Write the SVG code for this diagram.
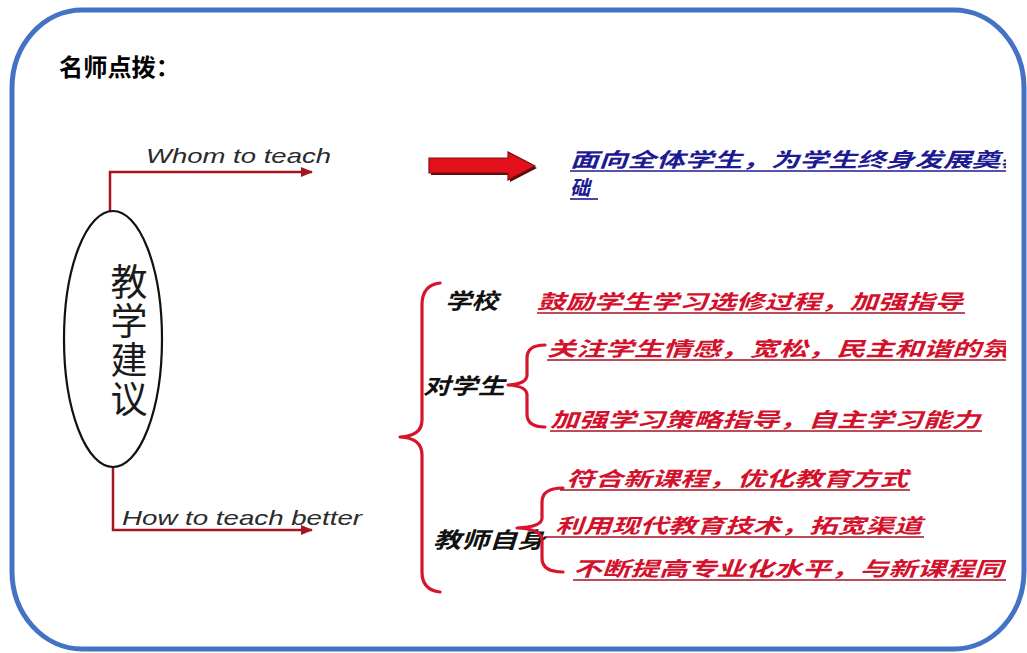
<svg xmlns="http://www.w3.org/2000/svg" width="1027" height="653" viewBox="0 0 1027 653">
<defs>
<style>
.title{font-family:"Noto Sans CJK SC","Noto Sans",sans-serif;font-size:24px;font-weight:bold;fill:#000}
.en{font-family:"Liberation Sans",Arial,sans-serif;font-style:italic;font-size:21px;fill:#2a2a2a}
.cjk{font-family:"Noto Sans CJK SC",sans-serif;font-style:italic;font-weight:bold;font-size:20px}
.red{fill:#d3112c}
.blue{fill:#1d1a93}
.blk{fill:#111;font-size:22px}
.ul{stroke:#a3121f;stroke-width:1.6}
.ulb{stroke:#1d1a93;stroke-width:1.6}
.conn{fill:none;stroke:#a3161f;stroke-width:2.5}
.brace{fill:none;stroke:#d6142c;stroke-width:3.2;stroke-linecap:round;stroke-linejoin:round}
.vert{font-family:"Noto Sans CJK SC",sans-serif;font-size:37px;fill:#1a1a1a;writing-mode:vertical-rl;letter-spacing:2px}
</style>
<marker id="ah" viewBox="0 0 10 10" refX="9" refY="5" markerWidth="5" markerHeight="5" orient="auto" markerUnits="strokeWidth">
<path d="M0,1 L10,5 L0,9 Z" fill="#a3161f"/>
</marker>
<clipPath id="clipR"><rect x="0" y="0" width="1006" height="653"/></clipPath>
</defs>
<rect x="0" y="0" width="1027" height="653" fill="#fff"/>
<rect id="border" x="12" y="10" width="1012" height="639" rx="70" ry="78" fill="#fff" stroke="#4472c4" stroke-width="5"/>
<text id="title" class="title" x="59" y="76" textLength="121" lengthAdjust="spacingAndGlyphs">名师点拨：</text>

<g id="connectors">
<path class="conn" d="M110,212 L110,172 L312,172" marker-end="url(#ah)"/>
<path class="conn" d="M113,466 L113,530 L312,530" marker-end="url(#ah)"/>
</g>

<g id="center">
<ellipse cx="113" cy="339" rx="49" ry="128" fill="#fff" stroke="#111" stroke-width="2.2"/>
<text class="vert" x="129" y="263">教学建议</text>
</g>

<g id="whom">
<text class="en" x="146" y="163" textLength="185" lengthAdjust="spacingAndGlyphs">Whom to teach</text>
</g>
<g id="how">
<text class="en" x="122" y="525" textLength="240" lengthAdjust="spacingAndGlyphs">How to teach better</text>
</g>

<g id="bigarrow">
<polygon points="431,160 510,160 510,154 537,168 510,182 510,175 431,175" fill="#5a0b0b"/>
<polygon points="429,158 508,158 508,152 535,166 508,180 508,173 429,173" fill="#e3101c" stroke="#7a1010" stroke-width="1.2"/>
</g>

<g id="whom-answer" clip-path="url(#clipR)">
<text class="cjk blue" x="570" y="167" textLength="459" lengthAdjust="spacingAndGlyphs">面向全体学生，为学生终身发展奠基</text>
<line class="ulb" x1="570" y1="171" x2="1006" y2="171"/>
<text class="cjk blue" x="570" y="195">础</text>
<line class="ulb" x1="570" y1="199" x2="598" y2="199"/>
</g>

<g id="brace-main">
<path class="brace" d="M440,283 Q422,285 422,305 L422,420 Q422,436 400,437 Q422,438 422,455 L422,572 Q422,590 440,592"/>
</g>

<g id="school">
<text class="cjk blk" x="445" y="309" textLength="53" lengthAdjust="spacingAndGlyphs">学校</text>
<text class="cjk red" x="537" y="309" textLength="426" lengthAdjust="spacingAndGlyphs">鼓励学生学习选修过程，加强指导</text>
<line class="ul" x1="537" y1="313" x2="965" y2="313"/>
</g>

<g id="students" clip-path="url(#clipR)">
<text class="cjk blk" x="423" y="394" textLength="82" lengthAdjust="spacingAndGlyphs">对学生</text>
<path class="brace" d="M545,345 Q527,345 527,358 L527,375 Q527,384 508,385 Q527,386 527,395 L527,414 Q527,427 545,427"/>
<text class="cjk red" x="547" y="356" textLength="463" lengthAdjust="spacingAndGlyphs">关注学生情感，宽松，民主和谐的氛</text>
<line class="ul" x1="547" y1="360" x2="1006" y2="360"/>
<text class="cjk red" x="550" y="427" textLength="430" lengthAdjust="spacingAndGlyphs">加强学习策略指导，自主学习能力</text>
<line class="ul" x1="550" y1="431" x2="982" y2="431"/>
</g>

<g id="teachers" clip-path="url(#clipR)">
<text class="cjk blk" x="433" y="548" textLength="112" lengthAdjust="spacingAndGlyphs">教师自身</text>
<path class="brace" d="M563,488 Q542,488 542,502 L542,518 Q542,527 517,528 Q542,529 542,540 L542,558 Q542,572 563,572"/>
<text class="cjk red" x="566" y="486" textLength="342" lengthAdjust="spacingAndGlyphs">符合新课程，优化教育方式</text>
<line class="ul" x1="560" y1="490" x2="910" y2="490"/>
<text class="cjk red" x="555" y="533" textLength="367" lengthAdjust="spacingAndGlyphs">利用现代教育技术，拓宽渠道</text>
<line class="ul" x1="545" y1="537" x2="924" y2="537"/>
<text class="cjk red" x="573" y="576" textLength="430" lengthAdjust="spacingAndGlyphs">不断提高专业化水平，与新课程同</text>
<line class="ul" x1="573" y1="580" x2="1006" y2="580"/>
</g>
</svg>
